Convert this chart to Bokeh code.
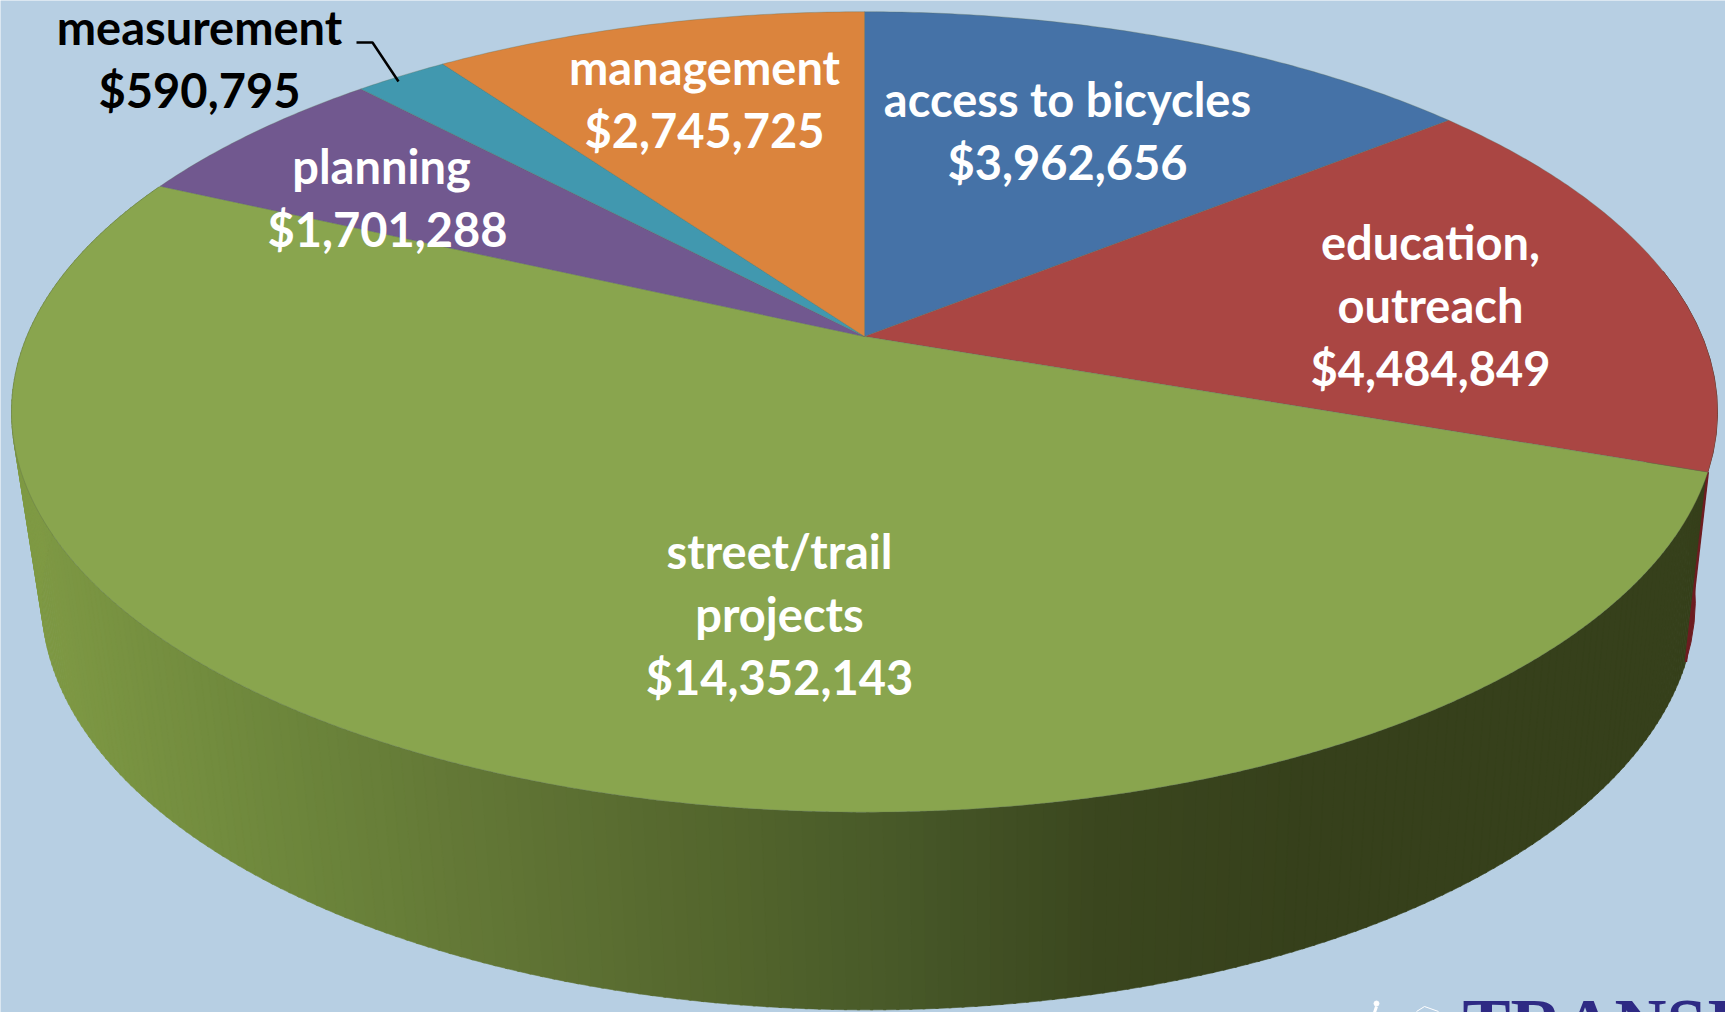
import numpy as np
from bokeh.plotting import figure
from bokeh.models import Range1d
from bokeh.core.properties import value
from bokeh.embed import file_html
from bokeh.resources import INLINE

# ---- data (clockwise from 12 o'clock)
categories = ["access to bicycles", "education, outreach", "street/trail projects",
              "planning", "measurement", "management"]
amounts = [3962656, 4484849, 14352143, 1701288, 590795, 2745725]
colors = ["#4572A7", "#AA4643", "#89A54E", "#71588F", "#4198AF", "#DB843D"]

# ---- label lines
label_lines = [
    ["access to bicycles", "$3,962,656"],
    ["education,", "outreach", "$4,484,849"],
    ["street/trail", "projects", "$14,352,143"],
    ["planning", "$1,701,288"],
    ["measurement", "$590,795"],
    ["management", "$2,745,725"],
]
label_xy = [(1067, 98.5), (1430, 241.5), (779, 550.5), (381, 165.5), (199, 26), (704, 66.5)]
label_color = ["white", "white", "white", "white", "black", "white"]
label_dx = [[0, 0], [0, 0, 0], [0, 0, 0], [0, 6], [0, 0], [0, 0]]
line_gap = 63

# ---- layout
W, H = 1725, 1012
BG = "#B7CFE3"
K = 0.1885
TOP = dict(cx=864.0, cy=336.0, a=386.0, b=837.7)
LOW = dict(cx=868.0, cy=522.6, a=395.0, b=812.0)


def project(theta_deg, plane):
    t = np.radians(theta_deg)
    u, v = np.sin(t), np.cos(t)
    d = 1 + K * v
    return plane["cx"] + plane["b"] * u / d, plane["cy"] - plane["a"] * v / d


shade_x = [11, 300, 500, 740, 900, 1100, 1300, 1718]
shade_rgb = [(0x80, 0x9B, 0x45), (0x6C, 0x85, 0x3B), (0x61, 0x75, 0x35), (0x52, 0x64, 0x2C),
             (0x47, 0x58, 0x28), (0x3A, 0x46, 0x1E), (0x36, 0x40, 0x1B), (0x36, 0x40, 0x1B)]


def shade(x):
    rgb = [int(round(np.interp(x, shade_x, [c[i] for c in shade_rgb]))) for i in range(3)]
    return "#%02x%02x%02x" % tuple(rgb)


fractions = np.array(amounts) / sum(amounts)
edges = np.concatenate([[0], np.cumsum(fractions) * 360])

p = figure(width=W, height=H, output_backend="svg", toolbar_location=None,
           x_range=Range1d(0, W), y_range=Range1d(H, 0),
           min_border=0, outline_line_color=None,
           background_fill_color=BG, border_fill_color=BG)
p.axis.visible = False
p.grid.visible = False

# side wall: dark red sliver, then green strips with a left-to-right shading
red_a = np.linspace(80, edges[2], 12)
x1, y1 = project(red_a, TOP)
x2, y2 = project(red_a[::-1], LOW)
p.patch(np.r_[x1, x2], np.r_[y1, y2], fill_color="#6D1C20", line_color="#6D1C20")

strip = np.arange(edges[2], min(edges[3], 300), 0.75)
xs, ys, cs = [], [], []
for a0, a1 in zip(strip[:-1], strip[1:] + 0.15):
    tx, ty = project(np.array([a0, a1]), TOP)
    lx, ly = project(np.array([a1, a0]), LOW)
    xs.append(np.r_[tx, lx])
    ys.append(np.r_[ty, ly])
    cs.append(shade(float(np.mean(np.r_[tx, lx]))))
p.patches(xs, ys, fill_color=cs, line_color=cs, line_width=0.6)

# the edge where the red wall meets the green one
bx0, by0 = project(edges[2], TOP)
bx1, by1 = project(edges[2], LOW)
p.line([bx0, bx1], [by0, by1], line_color="#6D1C20", line_width=2.5)

# top face
for i, col in enumerate(colors):
    n = max(int((edges[i + 1] - edges[i]) * 2), 4)
    ang = np.linspace(edges[i], edges[i + 1], n)
    ex, ey = project(ang, TOP)
    p.patch(np.r_[TOP["cx"], ex], np.r_[TOP["cy"], ey], fill_color=col,
            line_color="#5a6a50", line_alpha=0.3, line_width=1)

# leader line of the small slice
p.line([356, 372, 398], [42, 42, 81], line_color="black", line_width=2.5)

# labels
for lines, (lx, ly), col, dxs in zip(label_lines, label_xy, label_color, label_dx):
    for j, (txt, dx) in enumerate(zip(lines, dxs)):
        p.text([lx + dx], [ly + j * line_gap], text=[txt], text_color=col,
               text_font=value("Lato"), text_font_style="bold", text_font_size="47px",
               text_align="center", text_baseline="middle")

# cut-off logo in the corner: small walker and bicycle icons, then its name
p.scatter([1376], [1003], size=5, fill_color="white", line_color="white")
p.line([1376, 1374], [1006, 1012], line_color="white", line_width=3)
p.line([1416, 1424, 1438], [1011, 1006, 1011], line_color="white", line_width=1)
p.text([1462], [983], text=["TRANSIT"], text_color="#2E2A84",
       text_font=value("Liberation Serif"), text_font_style="bold", text_font_size="72px",
       text_align="left", text_baseline="top")

open("out.html", "w").write(file_html(p, INLINE))
